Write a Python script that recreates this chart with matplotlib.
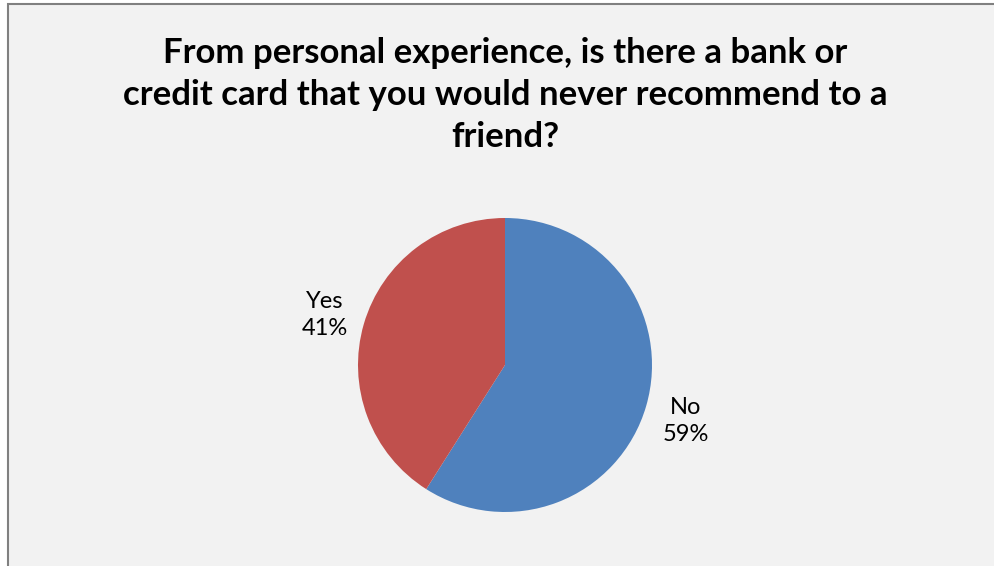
import matplotlib
matplotlib.use("Agg")
import matplotlib.pyplot as plt
from matplotlib.patches import Rectangle

title = "From personal experience, is there a bank or\ncredit card that you would never recommend to a\nfriend?"
answers = ["No", "Yes"]
shares = [59, 41]
colors = ["#4f81bd", "#c0504d"]

W, H = 994, 566
fig = plt.figure(figsize=(W / 100, H / 100), dpi=100)
ax = fig.add_axes([0, 0, 1, 1])

# chart area: grey panel with a border on the top and left edges
ax.add_patch(Rectangle((8, -10), W + 20, H - 3.5 + 10, facecolor="#f2f2f2",
                       edgecolor="#808080", lw=1.5, zorder=0))

ax.pie(shares, colors=colors, startangle=90, counterclock=False,
       center=(505, H - 365), radius=147, wedgeprops=dict(linewidth=0))

# pie() rescales the axes, so pin the pixel-like coordinates afterwards
ax.set_xlim(0, W)
ax.set_ylim(0, H)
ax.set_aspect("equal")
ax.axis("off")

ax.text(505, H - 95, title, ha="center", va="center", fontsize=25,
        fontweight="bold", family="Lato", linespacing=1.4)

# outside labels: category name over its percentage
label_pos = {"No": (686, H - 421), "Yes": (325, H - 315)}
for name, pct in zip(answers, shares):
    x, y = label_pos[name]
    ax.text(x, y, f"{name}\n{pct}%", ha="center", va="center", fontsize=17,
            family="Lato", linespacing=1.3)

fig.savefig("out.png", dpi=100)
